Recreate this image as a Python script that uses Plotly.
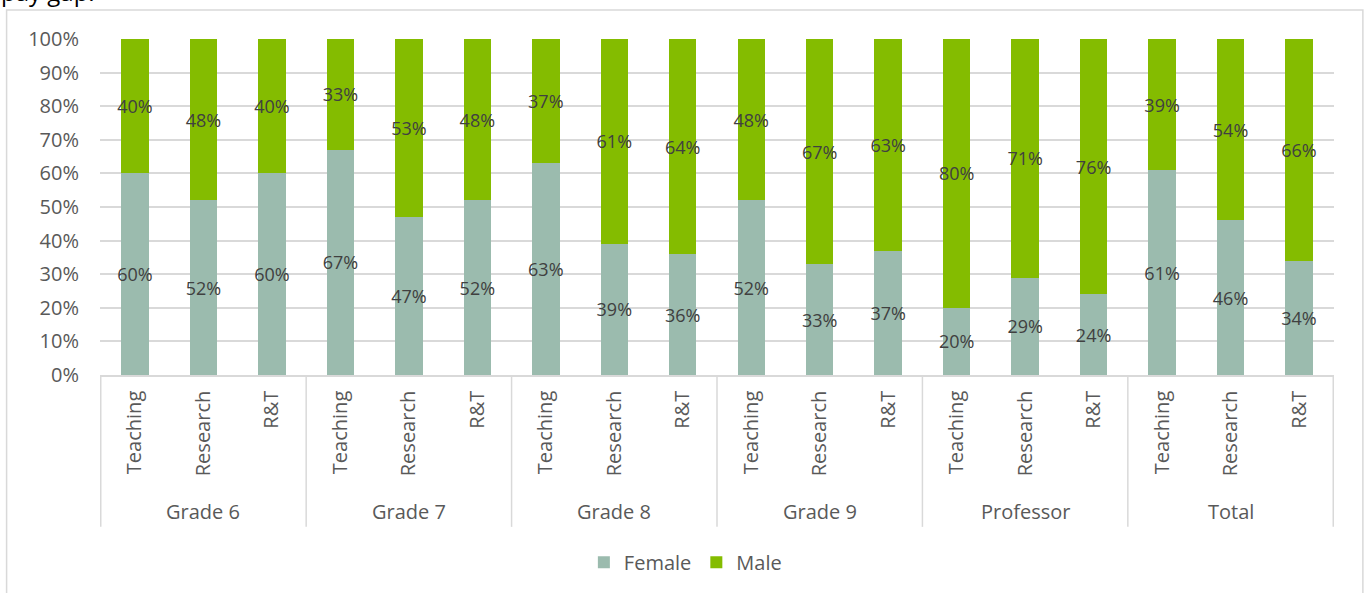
import plotly.graph_objects as go

groups = ["Grade 6", "Grade 7", "Grade 8", "Grade 9", "Professor", "Total"]
roles = ["Teaching", "Research", "R&T"]
female = [60, 52, 60, 67, 47, 52, 63, 39, 36, 52, 33, 37, 20, 29, 24, 61, 46, 34]
male = [40, 48, 40, 33, 53, 48, 37, 61, 64, 48, 67, 63, 80, 71, 76, 39, 54, 66]
y_ticks = [0, 10, 20, 30, 40, 50, 60, 70, 80, 90, 100]

cats = [f"{g}|{r}" for g in groups for r in roles]
role_labels = [r for g in groups for r in roles]

FONT = "Open Sans"
TXT = "#595959"
LBL = "#404040"
GRID = "#d9d9d9"

fig = go.Figure()
fig.add_trace(go.Bar(
    x=cats, y=female, name="Female", marker=dict(color="#9bbbae", line=dict(width=0)),
    text=[f"{v}%" for v in female], textposition="inside", insidetextanchor="middle",
    textangle=0, constraintext="none", cliponaxis=False,
    textfont=dict(family=FONT, size=18, color=LBL),
))
fig.add_trace(go.Bar(
    x=cats, y=male, name="Male", marker=dict(color="#84bc00", line=dict(width=0)),
    text=[f"{v}%" for v in male], textposition="inside", insidetextanchor="middle",
    textangle=0, constraintext="none", cliponaxis=False,
    textfont=dict(family=FONT, size=18, color=LBL),
))

shapes = []
# group dividers below the axis
for i in range(len(groups) + 1):
    xpos = i * 3 - 0.5
    shapes.append(dict(type="line", xref="x", yref="paper", x0=xpos, x1=xpos,
                       y0=0, y1=-0.452, line=dict(color=GRID, width=1.5)))
# outer chart border
shapes.append(dict(type="rect", xref="paper", yref="paper",
                   x0=-0.0757, x1=1.0234, y0=-0.75, y1=1.086,
                   line=dict(color=GRID, width=1.5), fillcolor="rgba(0,0,0,0)", layer="below"))

annotations = []
for gi, g in enumerate(groups):
    annotations.append(dict(text=g, xref="x", yref="paper", x=gi * 3 + 1, y=-0.405,
                            showarrow=False, yanchor="middle",
                            font=dict(family=FONT, size=20, color=TXT)))
annotations.append(dict(text="pay gap.", xref="paper", yref="paper", x=-0.082, xanchor="left",
                        y=1.087, yanchor="bottom", showarrow=False,
                        font=dict(family=FONT, size=24, color="#000000")))

fig.update_layout(
    width=1368, height=593,
    margin=dict(l=100, r=34, t=39, b=218),
    barmode="stack", bargap=0.6,
    plot_bgcolor="white", paper_bgcolor="white",
    font=dict(family=FONT, color=TXT, size=20),
    shapes=shapes, annotations=annotations,
    showlegend=True,
    legend=dict(orientation="h", xref="container", yref="container", x=0.501, xanchor="center",
                y=0.052, yanchor="middle", font=dict(family=FONT, size=20, color=TXT),
                traceorder="normal"),
    xaxis=dict(type="category", tickmode="array", tickvals=cats, ticktext=role_labels,
               tickangle=-90, showline=True, linecolor=GRID, linewidth=1.5,
               showgrid=False, ticks="", ticklabelstandoff=6,
               tickfont=dict(family=FONT, size=20, color=TXT)),
    yaxis=dict(range=[0, 100], tickvals=y_ticks, ticktext=[f"{v}%" for v in y_ticks],
               showgrid=True, gridcolor=GRID, gridwidth=1.5, zeroline=False, showline=False,
               ticks="", ticklabelstandoff=20, tickfont=dict(family=FONT, size=20, color=TXT)),
)

fig.write_html("out.html")
